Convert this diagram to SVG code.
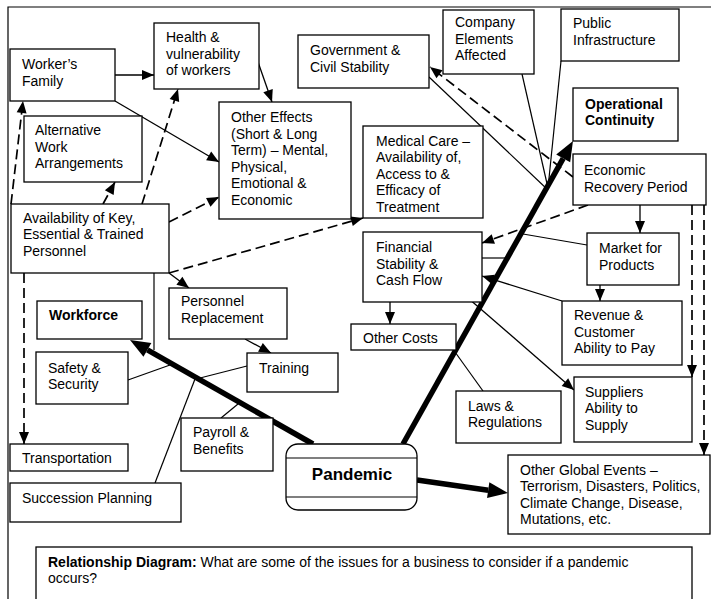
<svg xmlns="http://www.w3.org/2000/svg" width="711" height="599" viewBox="0 0 711 599">
<style>
.box{fill:#fff;stroke:#000;stroke-width:1.3}
.t{font-family:"Liberation Sans",Arial,sans-serif;font-size:14px;fill:#000}
.b{font-weight:bold}
.ln{fill:none;stroke:#000;stroke-width:1.2}
.ar{fill:none;stroke:#000;stroke-width:1.3;marker-end:url(#ah)}
.da{fill:none;stroke:#000;stroke-width:1.7;stroke-dasharray:10 5;marker-end:url(#ah)}
.tk{fill:none;stroke:#000;stroke-width:5.5;marker-end:url(#th)}
</style>
<defs>
<marker id="ah" markerUnits="userSpaceOnUse" markerWidth="12" markerHeight="10" refX="12" refY="5" orient="auto" overflow="visible">
<path d="M0,0 L12,5 L0,10 z" fill="#000"/>
</marker>
<marker id="th" markerUnits="userSpaceOnUse" markerWidth="20" markerHeight="16" refX="0" refY="8" orient="auto" overflow="visible">
<path d="M0,0 L20,8 L0,16 z" fill="#000"/>
</marker>
</defs>
<rect width="711" height="599" fill="#fff"/>
<path class="ln" d="M8,599 V7 H711"/>

<g id="connectors">
<!-- thick -->
<line class="tk" x1="313" y1="444" x2="147.4" y2="349.9"/>
<line class="tk" x1="403" y1="444" x2="563.2" y2="158.4"/>
<line class="tk" x1="417" y1="480" x2="488.2" y2="490.2"/>
<!-- thin solid arrows -->
<line class="ar" x1="115" y1="75" x2="154" y2="75"/>
<line class="ar" x1="115" y1="101" x2="219" y2="162"/>
<line class="ar" x1="258" y1="62" x2="272" y2="102"/>
<line class="ar" x1="169" y1="273" x2="189" y2="288"/>
<line class="ar" x1="245" y1="339" x2="271" y2="353"/>
<line class="ar" x1="390" y1="302" x2="390" y2="324"/>
<line class="ar" x1="640" y1="205" x2="640" y2="233"/>
<line class="ar" x1="600" y1="285" x2="600" y2="301"/>
<line class="ar" x1="562" y1="301" x2="482" y2="276"/>
<line class="ar" x1="468" y1="298" x2="574" y2="390"/>
<!-- dashed arrows -->
<line class="da" x1="11" y1="204" x2="23" y2="101"/>
<line class="da" x1="103" y1="204" x2="115" y2="182"/>
<line class="da" x1="142" y1="204" x2="178" y2="89"/>
<line class="da" x1="169" y1="222" x2="219" y2="197"/>
<line class="da" x1="169" y1="273" x2="363" y2="218"/>
<line class="da" x1="24" y1="273" x2="24" y2="444"/>
<line class="da" x1="573" y1="177" x2="430" y2="67"/>
<line class="da" x1="588" y1="205" x2="482" y2="243"/>
<line class="da" x1="692" y1="205" x2="692" y2="377"/>
<line class="da" x1="704" y1="205" x2="704" y2="455"/>
<!-- plain links -->
<line class="ln" x1="429" y1="77" x2="548" y2="190"/>
<line class="ln" x1="522" y1="74" x2="548" y2="188"/>
<line class="ln" x1="561" y1="61" x2="548" y2="188"/>
<line class="ln" x1="587" y1="245" x2="523" y2="234"/>
<line class="ln" x1="482" y1="258" x2="507" y2="258"/>
<line class="ln" x1="455" y1="352" x2="483" y2="391"/>
<line class="ln" x1="154" y1="273" x2="154" y2="350"/>
<line class="ln" x1="128" y1="380" x2="170" y2="365"/>
<line class="ln" x1="247" y1="366" x2="200" y2="378"/>
<line class="ln" x1="155" y1="483" x2="195" y2="379"/>
<line class="ln" x1="221" y1="418" x2="238" y2="404"/>
</g>

<g id="workers-family"><rect class="box" x="10" y="49" width="105" height="52"/>
<text class="t" x="22" y="69"><tspan x="22" y="69">Worker’s</tspan><tspan x="22" y="85.5">Family</tspan></text></g>

<g id="health"><rect class="box" x="154" y="23" width="105" height="66"/>
<text class="t"><tspan x="166" y="42">Health &amp;</tspan><tspan x="166" y="58.5">vulnerability</tspan><tspan x="166" y="75">of workers</tspan></text></g>

<g id="alternative-work"><rect class="box" x="24" y="116" width="118" height="66"/>
<text class="t"><tspan x="35" y="135">Alternative</tspan><tspan x="35" y="151.5">Work</tspan><tspan x="35" y="168">Arrangements</tspan></text></g>

<g id="other-effects"><rect class="box" x="219" y="102" width="132" height="117"/>
<text class="t"><tspan x="231" y="122">Other Effects</tspan><tspan x="231" y="138.5">(Short &amp; Long</tspan><tspan x="231" y="155">Term) – Mental,</tspan><tspan x="231" y="171.5">Physical,</tspan><tspan x="231" y="188">Emotional &amp;</tspan><tspan x="231" y="204.5">Economic</tspan></text></g>

<g id="government"><rect class="box" x="298" y="35" width="131" height="53"/>
<text class="t"><tspan x="310" y="55">Government &amp;</tspan><tspan x="310" y="71.5">Civil Stability</tspan></text></g>

<g id="company-elements"><rect class="box" x="443" y="10" width="91" height="64"/>
<text class="t"><tspan x="455" y="27">Company</tspan><tspan x="455" y="43.5">Elements</tspan><tspan x="455" y="60">Affected</tspan></text></g>

<g id="public-infrastructure"><rect class="box" x="561" y="9" width="118" height="52"/>
<text class="t"><tspan x="573" y="28">Public</tspan><tspan x="573" y="44.5">Infrastructure</tspan></text></g>

<g id="operational-continuity"><rect class="box" x="573" y="88" width="105" height="53"/>
<text class="t b"><tspan x="585" y="108.5">Operational</tspan><tspan x="585" y="125">Continuity</tspan></text></g>

<g id="economic-recovery"><rect class="box" x="573" y="154" width="133" height="51"/>
<text class="t"><tspan x="584" y="175">Economic</tspan><tspan x="584" y="191.5">Recovery Period</tspan></text></g>

<g id="medical-care"><rect class="box" x="363" y="126" width="120" height="92"/>
<text class="t"><tspan x="376" y="145.5">Medical Care –</tspan><tspan x="376" y="162">Availability of,</tspan><tspan x="376" y="178.5">Access to &amp;</tspan><tspan x="376" y="195">Efficacy of</tspan><tspan x="376" y="211.5">Treatment</tspan></text></g>

<g id="availability"><rect class="box" x="11" y="204" width="158" height="69"/>
<text class="t"><tspan x="23" y="222.5">Availability of Key,</tspan><tspan x="23" y="239">Essential &amp; Trained</tspan><tspan x="23" y="255.5">Personnel</tspan></text></g>

<g id="workforce"><rect class="box" x="37" y="301" width="105" height="38"/>
<text class="t b" x="49" y="320">Workforce</text></g>

<g id="personnel-replacement"><rect class="box" x="169" y="288" width="118" height="51"/>
<text class="t"><tspan x="181" y="306">Personnel</tspan><tspan x="181" y="322.5">Replacement</tspan></text></g>

<g id="safety-security"><rect class="box" x="36" y="352" width="92" height="52"/>
<text class="t"><tspan x="48" y="372.5">Safety &amp;</tspan><tspan x="48" y="389">Security</tspan></text></g>

<g id="training"><rect class="box" x="247" y="353" width="91" height="39"/>
<text class="t" x="259" y="372.5">Training</text></g>

<g id="payroll"><rect class="box" x="181" y="418" width="92" height="53"/>
<text class="t"><tspan x="193" y="437">Payroll &amp;</tspan><tspan x="193" y="453.5">Benefits</tspan></text></g>

<g id="transportation"><rect class="box" x="10" y="444" width="118" height="27"/>
<text class="t" x="22" y="463">Transportation</text></g>

<g id="succession-planning"><rect class="box" x="10" y="483" width="171" height="39"/>
<text class="t" x="22" y="503">Succession Planning</text></g>

<g id="pandemic"><rect class="box" x="286" y="444" width="131" height="66" rx="12"/>
<line class="ln" x1="286" y1="458" x2="417" y2="458"/>
<line class="ln" x1="286" y1="497" x2="417" y2="497"/>
<text class="t b" x="352" y="480" text-anchor="middle" style="font-size:17px">Pandemic</text></g>

<g id="financial-stability"><rect class="box" x="363" y="232" width="119" height="70"/>
<text class="t"><tspan x="376" y="252">Financial</tspan><tspan x="376" y="268.5">Stability &amp;</tspan><tspan x="376" y="285">Cash Flow</tspan></text></g>

<g id="other-costs"><rect class="box" x="351" y="324" width="105" height="26"/>
<text class="t" x="363" y="342.5">Other Costs</text></g>

<g id="laws-regulations"><rect class="box" x="456" y="391" width="105" height="52"/>
<text class="t"><tspan x="468" y="410.5">Laws &amp;</tspan><tspan x="468" y="427">Regulations</tspan></text></g>

<g id="market-products"><rect class="box" x="587" y="233" width="92" height="52"/>
<text class="t"><tspan x="599" y="253">Market for</tspan><tspan x="599" y="269.5">Products</tspan></text></g>

<g id="revenue"><rect class="box" x="562" y="301" width="120" height="64"/>
<text class="t"><tspan x="574" y="320">Revenue &amp;</tspan><tspan x="574" y="336.5">Customer</tspan><tspan x="574" y="353">Ability to Pay</tspan></text></g>

<g id="suppliers"><rect class="box" x="574" y="377" width="118" height="65"/>
<text class="t"><tspan x="585" y="396.5">Suppliers</tspan><tspan x="585" y="413">Ability to</tspan><tspan x="585" y="429.5">Supply</tspan></text></g>

<g id="other-global-events"><rect class="box" x="508" y="455" width="202" height="79"/>
<text class="t"><tspan x="520" y="474.5">Other Global Events –</tspan><tspan x="520" y="491">Terrorism, Disasters, Politics,</tspan><tspan x="520" y="507.5">Climate Change, Disease,</tspan><tspan x="520" y="524">Mutations, etc.</tspan></text></g>

<g id="caption"><rect class="box" x="36" y="547" width="656" height="60"/>
<text class="t" x="48" y="566.5"><tspan class="b">Relationship Diagram:</tspan> What are some of the issues for a business to consider if a pandemic</text>
<text class="t" x="48" y="583">occurs?</text></g>
</svg>
